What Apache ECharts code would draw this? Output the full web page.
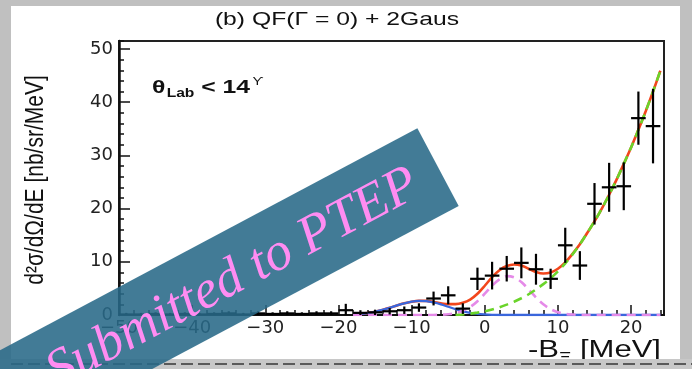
<!DOCTYPE html>
<html>
<head>
<meta charset="utf-8">
<script src="https://cdn.jsdelivr.net/npm/echarts@6/dist/echarts.min.js"></script>
<style>
html,body{margin:0;padding:0;background:#c0c0c0;}
#c{width:692px;height:369px;}
</style>
</head>
<body>
<div id="c"></div>
<script>
// ---- data ----
const binX = [-49,-47,-45,-43,-41,-39,-37,-35,-33,-31,-29,-27,-25,-23,-21,-19,-17,-15,-13,-11,-9,-7,-5,-3,-1,1,3,5,7,9,11,13,15,17,19,21,23];
const binY = [0.1,0.1,0.2,0.1,0.2,0.1,0.2,0.3,0.1,0.3,0.2,0.3,0.2,0.3,0.3,0.9,0.4,0.5,0.7,0.9,1.4,3.1,3.7,1.2,6.8,7.4,8.7,9.8,8.6,6.8,13.1,9.3,20.9,24.0,24.2,37.0,35.5];
const binErr = [0.3,0.3,0.3,0.3,0.3,0.3,0.3,0.4,0.3,0.4,0.3,0.4,0.3,0.4,0.4,1.2,0.5,0.5,0.6,0.7,0.8,1.3,1.7,1.0,2.1,2.6,2.4,2.9,2.9,1.9,3.3,2.7,3.9,4.6,4.5,5.0,7.0];
const binHalfWidth = 1;

const curveX = [-18,-17,-16,-15,-14,-13,-12,-11,-10,-9,-8,-7,-6,-5,-4,-3,-2,-1,0,1,2,3,4,5,6,7,8,9,10,11,12,13,14,15,16,17,18,19,20,21,22,23,24];
const totalFit = [0.1,0.2,0.35,0.6,0.95,1.35,1.8,2.2,2.5,2.65,2.65,2.45,2.2,2.05,2.05,2.3,2.9,4.0,5.5,7.1,8.4,9.2,9.5,9.3,8.7,8.1,7.8,8.0,8.7,9.9,11.5,13.3,15.4,17.6,20.0,22.6,25.4,28.4,31.5,34.8,38.3,42.0,45.9];
const qfFit = [null,null,null,null,null,null,null,null,null,null,null,null,null,null,0,0.1,0.25,0.45,0.7,1.05,1.45,1.95,2.5,3.15,3.9,4.8,5.8,6.9,8.2,9.7,11.4,13.3,15.4,17.6,20.0,22.6,25.4,28.4,31.5,34.8,38.3,42.0,45.9];
const gaus1 = [0.1,0.2,0.35,0.6,0.95,1.35,1.8,2.2,2.5,2.65,2.6,2.35,2.0,1.55,1.1,0.7,0.4,0.2,0.1,0.04,0,0,0,0,0,0,0,0,0,0,0,0,0,0,0,0,0,0,0,0,0,0,0];
const gaus2 = [0,0,0,0,0,0,0,0,0,0,0,0,0.05,0.15,0.35,0.8,1.5,2.6,4.0,5.5,6.7,7.3,7.1,6.2,4.8,3.3,2.0,1.1,0.5,0.2,0.08,0,0,0,0,0,0,0,0,0,0,0,0];

const xRange = [-50, 24.5];
const yRange = [0, 51.5];
const xMajor = 10, xMinor = 2, yMajor = 10, yMinor = 2;

const FONT = '"Liberation Sans", Arial, Helvetica, sans-serif';
const TICKFONT = '"DejaVu Sans", "Liberation Sans", sans-serif';
const STRETCH = 1.3;
const pts = binX.map((x, i) => [x, binY[i], binErr[i]]);
const pair = arr => curveX.map((x, i) => [x, arr[i]]);

const chart = echarts.init(document.getElementById('c'), null, {renderer: 'canvas'});
const minus = v => String(v).replace('-', '\u2212');

const option = {
  backgroundColor: '#ffffff',
  animation: false,
  grid: {left: 119, right: 28, top: 41, bottom: 54, show: true, borderColor: '#222', borderWidth: 2, backgroundColor: 'transparent'},
  xAxis: [
    {type: 'value', min: xRange[0], max: xRange[1], interval: xMajor, position: 'bottom',
     axisLine: {show: true, onZero: false, lineStyle: {color: '#111', width: 2}},
     axisTick: {show: true, inside: true, length: 10, lineStyle: {color: '#111', width: 1.5}},
     axisLabel: {fontFamily: TICKFONT, fontSize: 18, color: '#222', margin: 4, showMaxLabel: false, formatter: minus},
     splitLine: {show: false}},
    {type: 'value', min: xRange[0], max: xRange[1], interval: xMinor, position: 'bottom',
     axisLine: {show: false, onZero: false}, axisLabel: {show: false}, splitLine: {show: false},
     axisTick: {show: true, inside: true, length: 5, lineStyle: {color: '#111', width: 1.5}}}
  ],
  yAxis: [
    {type: 'value', min: yRange[0], max: yRange[1], interval: yMajor, position: 'left',
     axisLine: {show: true, onZero: false, lineStyle: {color: '#111', width: 2.5}},
     axisTick: {show: true, inside: true, length: 11, lineStyle: {color: '#111', width: 1.5}},
     axisLabel: {fontFamily: TICKFONT, fontSize: 18, color: '#222', margin: 6, showMaxLabel: false},
     splitLine: {show: false}},
    {type: 'value', min: yRange[0], max: yRange[1], interval: yMinor, position: 'left',
     axisLine: {show: false, onZero: false}, axisLabel: {show: false}, splitLine: {show: false},
     axisTick: {show: true, inside: true, length: 5, lineStyle: {color: '#111', width: 1.5}}}
  ],
  series: [
    {type: 'line', data: pair(totalFit), showSymbol: false, smooth: 0.3, z: 2,
     lineStyle: {color: '#f2461c', width: 2.6}},
    {type: 'line', data: pair(gaus1), showSymbol: false, smooth: 0.3, z: 3,
     lineStyle: {color: '#3a66dc', width: 2.3}},
    {type: 'line', data: pair(gaus2), showSymbol: false, smooth: 0.3, z: 3,
     lineStyle: {color: '#e58ae8', width: 2.6, type: [9, 6]}},
    {type: 'line', data: pair(qfFit), showSymbol: false, smooth: 0.3, z: 4, connectNulls: false,
     lineStyle: {color: '#6ad42a', width: 2.6, type: [9, 6]}},
    {type: 'custom', data: pts, z: 6, clip: true,
     encode: {x: 0, y: 1},
     renderItem: function (params, api) {
       const x = api.value(0), y = api.value(1), e = api.value(2);
       const top = api.coord([x, y + e]);
       const bot = api.coord([x, Math.max(0, y - e)]);
       const l = api.coord([x - binHalfWidth, y]);
       const r = api.coord([x + binHalfWidth, y]);
       return {type: 'group', children: [
         {type: 'line', shape: {x1: top[0], y1: top[1], x2: bot[0], y2: bot[1]}, style: {stroke: '#000', lineWidth: 2.2}},
         {type: 'line', shape: {x1: l[0], y1: l[1], x2: r[0], y2: r[1]}, style: {stroke: '#000', lineWidth: 2.2}}
       ]};
     }}
  ],
  graphic: [
    // slide border
    {type: 'rect', z: 100, silent: true, shape: {x: 0, y: 0, width: 11, height: 369}, style: {fill: '#c0c0c0'}},
    {type: 'rect', z: 100, silent: true, shape: {x: 0, y: 0, width: 692, height: 6}, style: {fill: '#c0c0c0'}},
    {type: 'rect', z: 100, silent: true, shape: {x: 680, y: 0, width: 12, height: 369}, style: {fill: '#c0c0c0'}},
    {type: 'rect', z: 100, silent: true, shape: {x: 0, y: 359, width: 692, height: 10}, style: {fill: '#c8c8c8'}},
    {type: 'line', z: 101, silent: true, shape: {x1: 11, y1: 364, x2: 692, y2: 364}, style: {stroke: '#5a5a5a', lineWidth: 2, lineDash: [12, 5]}},
    // title
    {type: 'text', z: 102, x: 337, y: 20, scaleX: STRETCH, style: {text: '(b) QF(\u0393 = 0) + 2Gaus', font: '19px ' + FONT, fill: '#111', align: 'center', verticalAlign: 'middle'}},
    // theta label
    {type: 'text', z: 50, x: 152, y: 88, scaleX: STRETCH, style: {
      text: '{a|\u03b8}{b|Lab}{a| < 14}{c|\u03d2}', align: 'left', verticalAlign: 'middle',
      rich: {
        a: {fontFamily: FONT, fontSize: 19, fontWeight: 'bold', fill: '#111', lineHeight: 24, verticalAlign: 'middle'},
        b: {fontFamily: FONT, fontSize: 12, fontWeight: 'bold', fill: '#111', lineHeight: 24, verticalAlign: 'bottom', padding: [0, 0, 0, 1]},
        c: {fontFamily: FONT, fontSize: 11, fill: '#111', lineHeight: 24, verticalAlign: 'top', padding: [0, 0, 0, 2]}
      }}},
    // y axis name
    {type: 'text', z: 50, x: 36, y: 180, rotation: Math.PI / 2, scaleY: 1.25, style: {text: 'd\u00b2\u03c3/d\u03a9/dE [nb/sr/MeV]', font: '21px ' + FONT, fill: '#111', align: 'center', verticalAlign: 'middle'}},
    // x axis name
    {type: 'text', z: 50, x: 661, y: 351, scaleX: 1.35, style: {
      text: '{a|-B}{b|\u039e}{a| [MeV]}', align: 'right', verticalAlign: 'middle',
      rich: {
        a: {fontFamily: FONT, fontSize: 23, fill: '#111', lineHeight: 28, verticalAlign: 'middle'},
        b: {fontFamily: FONT, fontSize: 14, fill: '#111', lineHeight: 28, verticalAlign: 'bottom'}
      }}},
    // banner
    {type: 'rect', z: 200, silent: true, x: 129, y: 331.5, rotation: 28 * Math.PI / 180,
     shape: {x: -350, y: -44, width: 700, height: 88}, style: {fill: 'rgba(40,105,136,0.88)'}},
    {type: 'text', z: 201, silent: true, x: 233, y: 279, rotation: 28 * Math.PI / 180,
     style: {text: 'Submitted to PTEP', font: 'italic 54px "Liberation Serif", "Times New Roman", serif', fill: '#ff8cf2', align: 'center', verticalAlign: 'middle'}}
  ]
};
chart.setOption(option);
</script>
</body>
</html>
